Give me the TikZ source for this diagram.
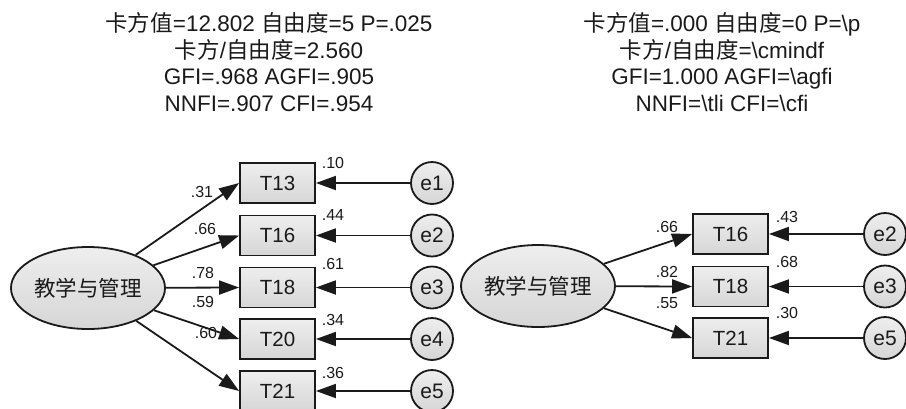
\documentclass[tikz,border=0pt]{standalone}
\usepackage{fontspec}
\setmainfont{Liberation Sans}
\newfontfamily\cjk{Noto Sans CJK SC}
\usetikzlibrary{arrows.meta,shapes.geometric}
\definecolor{fillt}{HTML}{EEEEEE}
\definecolor{fillb}{HTML}{D6D6D6}
\definecolor{ink}{HTML}{1A1A1A}
\begin{document}
\begin{tikzpicture}[x=1pt,y=-1pt,
 shadefill/.style={top color=fillt,bottom color=fillb},
 obs/.style={draw=ink,shadefill,line width=1.8pt,minimum width=75pt,minimum height=40pt,inner sep=0pt,font=\fontsize{20.5}{24}\selectfont,text=ink},
 lat/.style={ellipse,draw=ink,shadefill,line width=1.8pt,minimum width=154pt,minimum height=82pt,inner sep=0pt,font=\cjk\fontsize{21.5}{24}\selectfont,text=ink},
 err/.style={circle,draw=ink,shadefill,line width=1.8pt,minimum size=42pt,inner sep=0pt,font=\fontsize{21}{24}\selectfont,text=ink},
 conn/.style={draw=ink,line width=1.8pt,-{Triangle[length=20pt,width=14pt]}},
 lbl/.style={font=\fontsize{16}{18}\selectfont,text=ink,inner sep=0pt},
 stat/.style={align=center,font=\fontsize{22.5}{26.5}\selectfont,text=ink,inner sep=0pt}
]
\useasboundingbox (0,0) rectangle (906,408);
% ---------- left model ----------
\node[stat] (sL) at (269,62) {{\cjk 卡方值}=12.802 {\cjk 自由度}=5 P=.025\\{\cjk 卡方}/{\cjk 自由度}=2.560\\GFI=.968 AGFI=.905\\NNFI=.907 CFI=.954};
\node[lat] (L1) at (88,288) {教学与管理};
\node[obs] (a13) at (277.5,183) {T13};
\node[obs] (a16) at (277.5,235.5) {T16};
\node[obs] (a18) at (277.5,287.5) {T18};
\node[obs] (a20) at (277.5,339) {T20};
\node[obs] (a21) at (277.5,391) {T21};
\node[err] (ae1) at (432,183) {e1};
\node[err] (ae2) at (432,235.5) {e2};
\node[err] (ae3) at (432,287.5) {e3};
\node[err] (ae4) at (432,339) {e4};
\node[err] (ae5) at (432,391) {e5};
\foreach \t in {13,16,18,20,21} {\draw[conn] (L1) -- (a\t.west);}
\foreach \i/\t in {1/13,2/16,3/18,4/20,5/21} {\draw[conn] (ae\i) -- (a\t.east);}
\node[lbl] (l31) at (202,192) {.31};
\node[lbl] (l66) at (205,229) {.66};
\node[lbl] (l78) at (203,273) {.78};
\node[lbl] (l59) at (203,302) {.59};
\node[lbl] (l60) at (206,333) {.60};
\node[lbl] (r10) at (333,163) {.10};
\node[lbl] (r44) at (333,215) {.44};
\node[lbl] (r61) at (333,264) {.61};
\node[lbl] (r34) at (333,320) {.34};
\node[lbl] (r36) at (333,373) {.36};
% ---------- right model ----------
\node[stat] (sR) at (722,62) {{\cjk 卡方值}=.000 {\cjk 自由度}=0 P=\textbackslash p\\{\cjk 卡方}/{\cjk 自由度}=\textbackslash cmindf\\GFI=1.000 AGFI=\textbackslash agfi\\NNFI=\textbackslash tli CFI=\textbackslash cfi};
\node[lat] (L2) at (538,286) {教学与管理};
\node[obs] (b16) at (730.5,234) {T16};
\node[obs] (b18) at (730.5,286.5) {T18};
\node[obs] (b21) at (730.5,338) {T21};
\node[err] (be2) at (885,234) {e2};
\node[err] (be3) at (885,286.5) {e3};
\node[err] (be5) at (885,338) {e5};
\foreach \t in {16,18,21} {\draw[conn] (L2) -- (b\t.west);}
\foreach \i/\t in {2/16,3/18,5/21} {\draw[conn] (be\i) -- (b\t.east);}
\node[lbl] (m66) at (667,227) {.66};
\node[lbl] (m82) at (667,272) {.82};
\node[lbl] (m55) at (667,303) {.55};
\node[lbl] (s43) at (787,217) {.43};
\node[lbl] (s68) at (787,262) {.68};
\node[lbl] (s30) at (787,313) {.30};
\end{tikzpicture}
\end{document}
